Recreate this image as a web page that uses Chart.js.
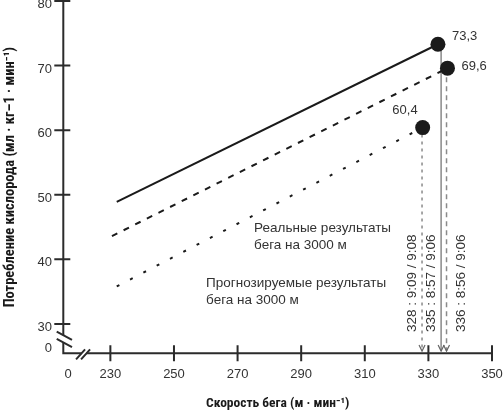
<!DOCTYPE html>
<html>
<head>
<meta charset="utf-8">
<script src="https://cdn.jsdelivr.net/npm/chart.js@4.4.0/dist/chart.umd.min.js"></script>
<style>
  html, body { margin: 0; padding: 0; background: #fff; }
  #wrap { width: 503px; height: 413px; }
</style>
</head>
<body>
<div id="wrap"><canvas id="chart"></canvas></div>
<script>
// --- data ---
const xTicks = [230, 250, 270, 290, 310, 330, 350];
const yTicks = [30, 40, 50, 60, 70, 80];
const breakLabelX = 216.7;   // "0" on the broken x axis
const breakLabelY = 26.7;    // "0" on the broken y axis

// three regression lines: [start, end]
const solidX = [232, 333];
const solidY = [48.9, 73.3];
const dashedX = [230.5, 336];
const dashedY = [43.6, 69.6];
const dottedX = [232, 328.2];
const dottedY = [35.8, 60.4];
const pointLabels = ['73,3', '69,6', '60,4'];

// vertical drops to the speed axis
const dropX = [328, 334, 335.7];
const dropTop = [60.4, 73.3, 69.6];
const dropBottom = 25.8;
const dropLabels = ['328 : 9:09 / 9:08', '335 : 8:57 / 9:06', '336 : 8:56 / 9:06'];

const notes = [
  ['Реальные результаты', 'бега на 3000 м'],
  ['Прогнозируемые результаты', 'бега на 3000 м']
];

const ink = '#1a1a1a';
const textCol = '#333';
const grey = '#8a8a8a';
const narrow = "'Liberation Sans Narrow', 'Roboto Condensed', 'DejaVu Sans Condensed', sans-serif";

Chart.defaults.font.family = "'Liberation Sans', Arial, sans-serif";
Chart.defaults.color = textCol;

function pts(xs, ys) {
  return xs.map((x, i) => ({x: x, y: ys[i]}));
}

const mainLines = [
  {x: solidX, y: solidY, dash: []},
  {x: dashedX, y: dashedY, dash: [6, 7]},
  {x: dottedX, y: dottedY, dash: [3, 12]}
];
const dropDash = [[3, 4], [], [5, 4]];

const datasets = [];
mainLines.forEach(l => {
  datasets.push({
    data: pts(l.x, l.y),
    showLine: true,
    borderColor: ink,
    borderWidth: 2,
    borderDash: l.dash,
    pointRadius: [0, 7.5],
    pointBackgroundColor: ink,
    pointBorderWidth: 0,
    clip: false
  });
});
dropX.forEach((x, i) => {
  datasets.push({
    data: [{x: x, y: dropTop[i]}, {x: x, y: dropBottom}],
    showLine: true,
    borderColor: grey,
    borderWidth: 1.5,
    borderDash: dropDash[i],
    pointRadius: 0,
    clip: false
  });
});

// axes with break marks and ticks crossing the line
const axesPlugin = {
  id: 'axes',
  beforeDatasetsDraw(chart) {
    const {ctx, chartArea: a, scales: {x, y}} = chart;
    ctx.save();
    ctx.strokeStyle = '#2b2b2b';
    ctx.lineWidth = 2;

    const yc = y.getPixelForValue(27.7);
    const xc = x.getPixelForValue(221.7);
    ctx.beginPath();
    ctx.moveTo(a.left, a.top);
    ctx.lineTo(a.left, yc - 3.6);
    ctx.moveTo(a.left, yc + 3.6);
    ctx.lineTo(a.left, a.bottom + 1);
    ctx.moveTo(a.left - 1, a.bottom);
    ctx.lineTo(xc - 2.5, a.bottom);
    ctx.moveTo(xc + 2.5, a.bottom);
    ctx.lineTo(a.right, a.bottom);
    ctx.stroke();

    // break marks
    ctx.beginPath();
    [-3.6, 3.6].forEach(d => {
      ctx.moveTo(a.left - 6.6, yc + d - 3.6);
      ctx.lineTo(a.left + 8.7, yc + d + 4.7);
    });
    [-2.5, 2.5].forEach(d => {
      ctx.moveTo(xc + d - 5.4, a.bottom + 6);
      ctx.lineTo(xc + d + 3.6, a.bottom - 4);
    });
    ctx.stroke();

    // tick marks
    ctx.beginPath();
    yTicks.forEach(v => {
      const py = y.getPixelForValue(v);
      ctx.moveTo(a.left - 9, py);
      ctx.lineTo(a.left + 7, py);
    });
    xTicks.forEach(v => {
      const px = x.getPixelForValue(v);
      ctx.moveTo(px, a.bottom - 8);
      ctx.lineTo(px, a.bottom + 8);
    });
    ctx.stroke();
    ctx.restore();
  }
};

const labelPlugin = {
  id: 'labels',
  afterDatasetsDraw(chart) {
    const {ctx, scales: {x, y}} = chart;
    ctx.save();
    ctx.fillStyle = textCol;
    ctx.font = "13px 'Liberation Sans', Arial, sans-serif";
    ctx.textBaseline = 'middle';

    // values next to the markers
    const offs = [[14, -8, 'left'], [14, -2, 'left'], [-5, -17, 'right']];
    pointLabels.forEach((t, i) => {
      const p = chart.getDatasetMeta(i).data[1];
      ctx.textAlign = offs[i][2];
      ctx.fillText(t, p.x + offs[i][0], p.y + offs[i][1]);
    });

    // arrowheads at the foot of the drops
    ctx.strokeStyle = '#666';
    ctx.lineWidth = 1.2;
    dropX.forEach(v => {
      const px = x.getPixelForValue(v);
      const py = y.getPixelForValue(dropBottom);
      ctx.beginPath();
      ctx.moveTo(px - 3, py - 6);
      ctx.lineTo(px, py);
      ctx.lineTo(px + 3, py - 6);
      ctx.stroke();
    });

    // rotated drop labels
    ctx.font = "13.5px 'Liberation Sans', Arial, sans-serif";
    ctx.textAlign = 'center';
    const dx = [-9.5, -10, 15];
    const cy = y.getPixelForValue(36.3);
    dropLabels.forEach((t, i) => {
      const px = x.getPixelForValue(dropX[i]) + dx[i];
      ctx.save();
      ctx.translate(px, cy);
      ctx.rotate(-Math.PI / 2);
      ctx.fillText(t, 0, 0);
      ctx.restore();
    });

    // notes
    ctx.font = "13.5px 'Liberation Sans', Arial, sans-serif";
    ctx.textAlign = 'left';
    const noteAt = [[275.2, 44.8], [260.1, 36.3]];
    notes.forEach((lines, i) => {
      const px = x.getPixelForValue(noteAt[i][0]);
      const py = y.getPixelForValue(noteAt[i][1]);
      lines.forEach((t, j) => ctx.fillText(t, px, py + j * 17));
    });
    ctx.restore();
  }
};

new Chart(document.getElementById('chart'), {
  type: 'scatter',
  data: {datasets: datasets},
  options: {
    responsive: true,
    maintainAspectRatio: false,
    animation: false,
    layout: {autoPadding: false, padding: {top: 1, right: 11, left: 0, bottom: 0}},
    plugins: {legend: {display: false}, tooltip: {enabled: false}},
    scales: {
      x: {
        type: 'linear',
        min: 215.2,
        max: 350,
        grid: {display: false, drawTicks: false},
        border: {display: false},
        afterBuildTicks: s => { s.ticks = [breakLabelX].concat(xTicks).map(v => ({value: v})); },
        afterFit: s => { s.height = 59.7; s.paddingLeft = 0; s.paddingRight = 0; },
        ticks: {
          autoSkip: false,
          maxRotation: 0,
          padding: 13,
          font: {size: 13},
          callback: v => v < 229 ? '0' : v
        },
        title: {
          display: true,
          text: 'Скорость бега (м · мин⁻¹)',
          font: {family: narrow, size: 13.5, weight: 'bold'},
          color: ink,
          padding: {top: 0, bottom: 1}
        }
      },
      y: {
        type: 'linear',
        min: 25.45,
        max: 80,
        grid: {display: false, drawTicks: false},
        border: {display: false},
        afterBuildTicks: s => { s.ticks = [breakLabelY].concat(yTicks).map(v => ({value: v})); },
        afterFit: s => { s.width = 63.3; s.paddingTop = 0; s.paddingBottom = 0; },
        ticks: {
          autoSkip: false,
          padding: 11.3,
          labelOffset: 3.5,
          font: {size: 13},
          callback: v => v < 29 ? '0' : v
        },
        title: {
          display: true,
          text: 'Потребление кислорода (мл · кг–1 · мин⁻¹)',
          font: {family: narrow, size: 14.5, weight: 'bold'},
          color: ink,
          padding: {top: 2, bottom: 0}
        }
      }
    }
  },
  plugins: [axesPlugin, labelPlugin]
});
</script>
</body>
</html>
